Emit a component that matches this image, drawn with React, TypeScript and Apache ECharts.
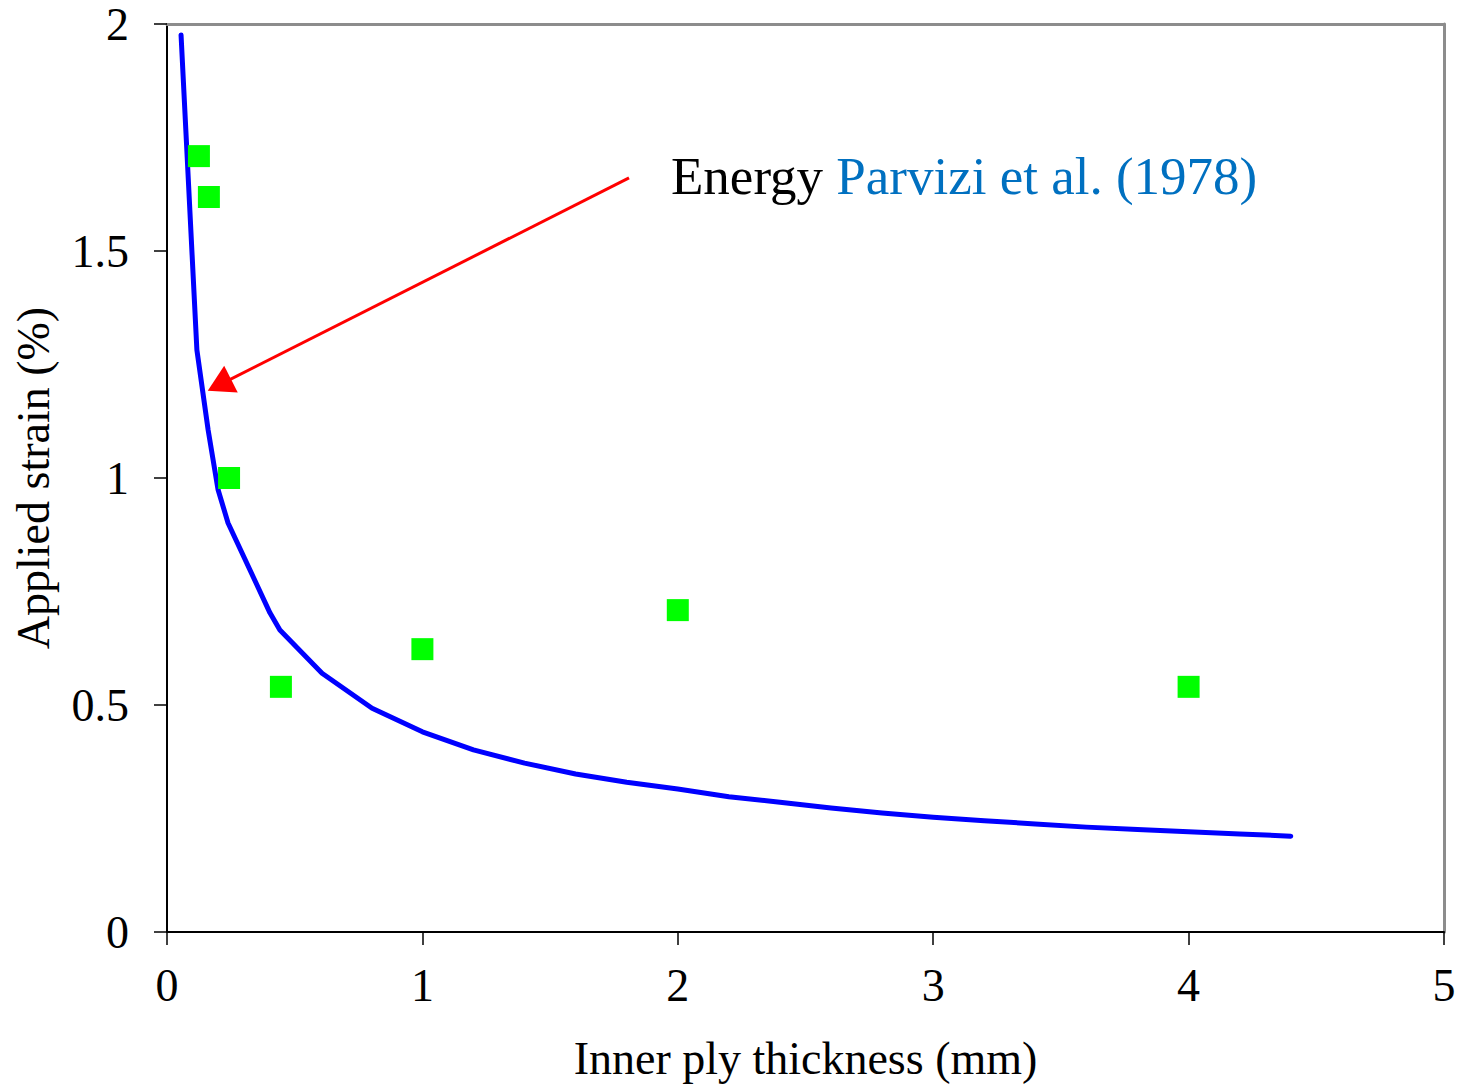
import React, { useEffect, useRef } from "react";
import * as echarts from "echarts";

// Energy model curve (Parvizi et al. 1978)
const curveX = [0.055, 0.117, 0.161, 0.2, 0.239, 0.403, 0.442, 0.607, 0.803, 1.0, 1.2, 1.4, 1.6, 1.8, 2.0, 2.2, 2.4, 2.6, 2.8, 3.0, 3.2, 3.4, 3.6, 3.8, 4.0, 4.2, 4.4];
const curveY = [1.976, 1.282, 1.106, 0.974, 0.901, 0.703, 0.665, 0.570, 0.493, 0.441, 0.401, 0.372, 0.348, 0.330, 0.315, 0.298, 0.286, 0.273, 0.262, 0.253, 0.245, 0.238, 0.231, 0.226, 0.221, 0.216, 0.211];

// Experimental points
const expX = [0.125, 0.164, 0.243, 0.446, 1.0, 2.0, 4.0];
const expY = [1.709, 1.619, 1.0, 0.54, 0.623, 0.709, 0.54];

// Annotation arrow (data coords)
const arrowFrom = [1.809, 1.661];
const arrowTo = [0.205, 1.205];

const xTicks = [0, 1, 2, 3, 4, 5];
const yTicks = [0, 0.5, 1, 1.5, 2];

const FONT = "'Liberation Serif', 'Times New Roman', serif";

export default function App() {
  const ref = useRef<HTMLDivElement>(null);
  useEffect(() => {
    if (!ref.current) return;
    const chart = echarts.init(ref.current, null, { renderer: "svg" });
    const option: any = {
      animation: false,
      backgroundColor: "#ffffff",
      grid: { left: 167, top: 24, right: 17, bottom: 159, containLabel: false },
      xAxis: [
        {
          type: "value",
          min: xTicks[0],
          max: xTicks[xTicks.length - 1],
          interval: 1,
          name: "Inner ply thickness (mm)",
          nameLocation: "middle",
          nameGap: 103,
          nameTextStyle: { fontFamily: FONT, fontSize: 46, color: "#000" },
          axisLine: { show: true, onZero: false, lineStyle: { color: "#000", width: 2 } },
          axisTick: { show: true, inside: false, length: 13, lineStyle: { color: "#000", width: 1.5 } },
          axisLabel: { fontFamily: FONT, fontSize: 46, color: "#000", margin: 30 },
          splitLine: { show: false },
        },
        {
          type: "value",
          position: "top",
          min: 0,
          max: 5,
          axisLine: { show: true, onZero: false, lineStyle: { color: "#8c8c8c", width: 3 } },
          axisTick: { show: false },
          axisLabel: { show: false },
          splitLine: { show: false },
        },
      ],
      yAxis: [
        {
          type: "value",
          min: yTicks[0],
          max: yTicks[yTicks.length - 1],
          interval: 0.5,
          name: "Applied strain (%)",
          nameLocation: "middle",
          nameGap: 111,
          nameTextStyle: { fontFamily: FONT, fontSize: 46, color: "#000" },
          axisLine: { show: true, onZero: false, lineStyle: { color: "#000", width: 2 } },
          axisTick: { show: true, inside: false, length: 13, lineStyle: { color: "#000", width: 1.5 } },
          axisLabel: { fontFamily: FONT, fontSize: 46, color: "#000", margin: 38 },
          splitLine: { show: false },
        },
        {
          type: "value",
          position: "right",
          min: 0,
          max: 2,
          axisLine: { show: true, onZero: false, lineStyle: { color: "#8c8c8c", width: 3 } },
          axisTick: { show: false },
          axisLabel: { show: false },
          splitLine: { show: false },
        },
      ],
      series: [
        {
          type: "line",
          data: curveX.map((x, i) => [x, curveY[i]]),
          showSymbol: false,
          symbol: "none",
          lineStyle: { color: "#0000ff", width: 5, cap: "round", join: "round" },
          z: 2,
        },
        {
          type: "scatter",
          data: expX.map((x, i) => [x, expY[i]]),
          symbol: "rect",
          symbolSize: 22,
          itemStyle: { color: "#00ff00", opacity: 1 },
          z: 3,
          markLine: {
            silent: true,
            symbol: ["none", "triangle"],
            symbolSize: [30, 26],
            label: { show: false },
            lineStyle: { color: "#ff0000", width: 3, type: "solid", opacity: 1 },
            itemStyle: { color: "#ff0000" },
            data: [[{ coord: arrowFrom }, { coord: arrowTo }]],
          },
        },
      ],
      graphic: [
        {
          type: "text",
          left: 671,
          top: 149,
          style: {
            text: "{a|Energy }{b|Parvizi et al. (1978)}",
            rich: {
              a: { fontFamily: FONT, fontSize: 53, fill: "#000000" },
              b: { fontFamily: FONT, fontSize: 53, fill: "#0070c0" },
            },
          },
        },
      ],
    };
    chart.setOption(option);
    return () => chart.dispose();
  }, []);
  return (
    <div
      ref={ref}
      style={{ position: "fixed", left: 0, top: 0, width: 1461, height: 1091, background: "#fff" }}
    />
  );
}
